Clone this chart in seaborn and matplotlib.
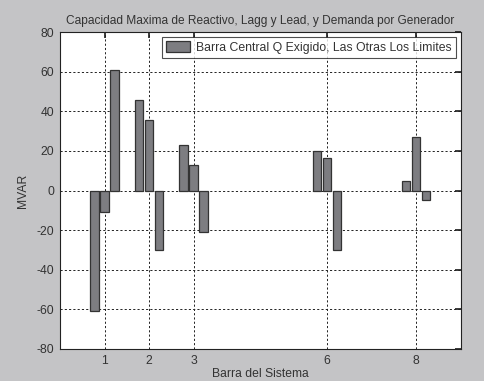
import matplotlib
matplotlib.use("Agg")
import matplotlib.pyplot as plt
import seaborn as sns
import pandas as pd

# Generator buses and reactive power per bus (Lagg, Q demand, Lead) in MVAR
barras = [1, 2, 3, 6, 8]
q_lagg = [-61, 45.5, 23, 20, 5]
q_central = [-11, 35.5, 13, 16.5, 27]
q_lead = [61, -30, -21, -30, -5]
leyenda = "Barra Central Q Exigido, Las Otras Los Limites"

rows = []
for serie, vals in (("lagg", q_lagg), ("central", q_central), ("lead", q_lead)):
    for b, v in zip(barras, vals):
        rows.append({"barra": b, "mvar": v, "serie": serie})
df = pd.DataFrame(rows)

sns.set_theme(style="white")
plt.rcParams["font.family"] = ["Liberation Sans", "DejaVu Sans"]
plt.rcParams["axes.unicode_minus"] = False

bg = "#c4c4c6"
bar_color = "#7c7c82"
txt = "#333333"

fig = plt.figure(figsize=(4.84, 3.81), dpi=100, facecolor=bg)
ax = fig.add_axes([0.124, 0.084, 0.828, 0.832])
ax.set_facecolor("white")

sns.barplot(data=df, x="barra", y="mvar", hue="serie",
            hue_order=["lagg", "central", "lead"],
            palette=[bar_color] * 3, native_scale=True,
            width=0.675, gap=0.17, edgecolor="#333333", linewidth=0.9,
            legend=False, ax=ax)

ax.set_xlim(0, 9)
ax.set_ylim(-80, 80)
ax.set_xticks(barras)
ax.set_xticklabels([str(b) for b in barras])
ax.set_yticks(range(-80, 81, 20))

ax.grid(True, color="#222222", linestyle=(0, (2.2, 2.2)), linewidth=0.7)
ax.set_axisbelow(True)
for s in ax.spines.values():
    s.set_color("#222222")
    s.set_linewidth(0.8)
ax.tick_params(direction="in", length=4, top=True, right=True,
               labelsize=8.7, colors="#222222", labelcolor=txt, pad=4)

ax.set_title("Capacidad Maxima de Reactivo, Lagg y Lead, y Demanda por Generador",
             fontsize=8.6, color=txt, pad=6)
ax.set_xlabel("Barra del Sistema", fontsize=8.7, color=txt, labelpad=1)
ax.set_ylabel("MVAR", fontsize=8.7, color=txt, labelpad=6)

handle = ax.patches[0]
leg = ax.legend([handle], [leyenda], loc="upper right", fontsize=8.85,
                frameon=True, fancybox=False, borderpad=0.35,
                handlelength=1.9, handleheight=1.0, handletextpad=0.5,
                borderaxespad=0.4)
leg.get_frame().set_edgecolor("#222222")
leg.get_frame().set_linewidth(0.8)
for t in leg.get_texts():
    t.set_color(txt)

fig.savefig("out.png", dpi=100, facecolor=bg)
